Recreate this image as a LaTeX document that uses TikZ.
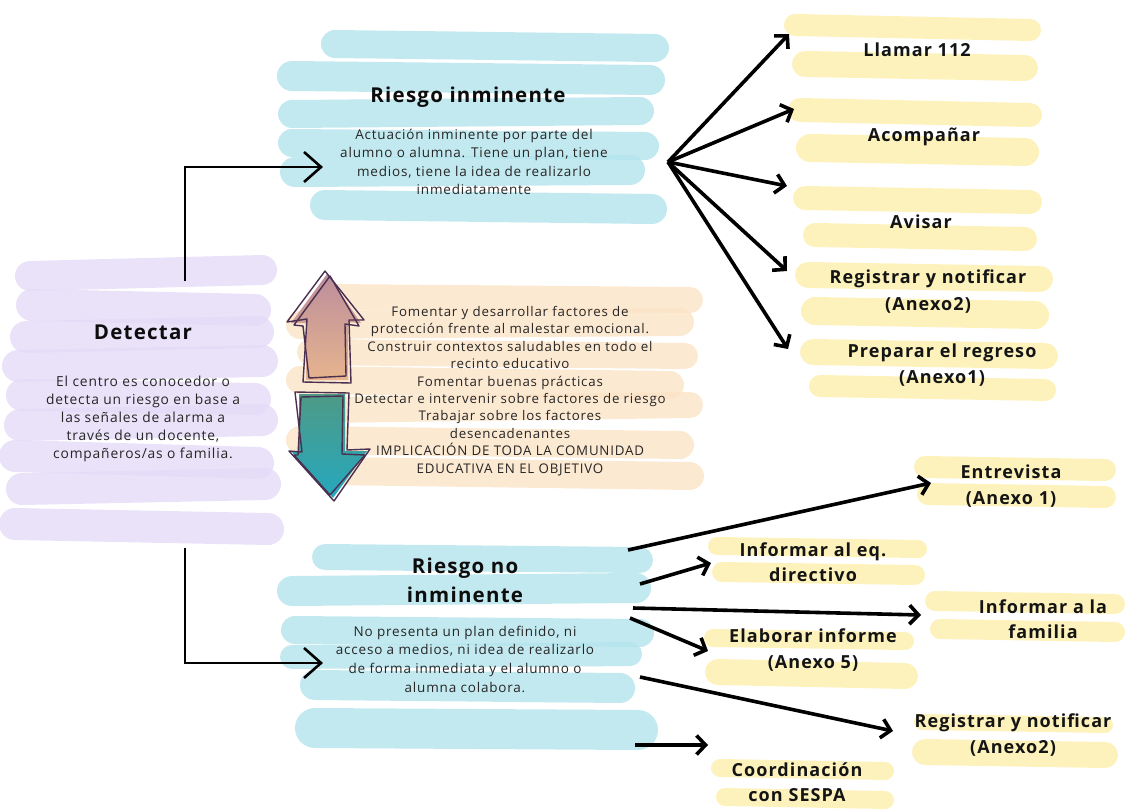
\documentclass[tikz,border=0pt]{standalone}
\usepackage{fontspec}
\setmainfont{Open Sans}[LetterSpace=6]
\usetikzlibrary{arrows.meta}
\definecolor{purp}{HTML}{E4DBF7}
\definecolor{cyanb}{HTML}{B4E4EC}
\definecolor{orng}{HTML}{FBE3C6}
\definecolor{yell}{HTML}{FCEFAB}
\definecolor{txt}{HTML}{262626}
\definecolor{outl}{HTML}{4A2F50}
\definecolor{mauve}{HTML}{BC8E9C}
\definecolor{peach}{HTML}{E7B48E}
\definecolor{tealg}{HTML}{4E9A86}
\definecolor{tealb}{HTML}{25A8BE}
\newcommand\brushline[6]{\draw[#1, line width=#6pt, line cap=round, opacity=0.8] (#2,#3) -- (#4,#5);}
\tikzset{
  ttl/.style={font=\bfseries\fontsize{20.5}{29}\selectfont, text=black!95, align=center},
  bodytxt/.style={font=\fontsize{13.5}{18.3}\selectfont, text=txt, align=center},
  midtxt/.style={font=\fontsize{13.3}{17.4}\selectfont, text=txt, align=center},
  lab/.style={font=\bfseries\fontsize{18}{25.5}\selectfont, text=black!92, align=center},
  fan/.style={-{Straight Barb[length=9pt,width=19pt]}, line width=3.6pt, black},
  elbow/.style={-{Straight Barb[length=17pt,width=30pt]}, line width=2.6pt, black},
  sketch/.style={draw=outl, line width=1.4pt, line join=round}
}
\begin{document}
\begin{tikzpicture}[x=1pt,y=-1pt]
\useasboundingbox (0,0) rectangle (1141,809);
% ---------- purple brush (Detectar)
\brushline{purp}{30}{276}{262}{270}{30}
\brushline{purp}{32}{305}{255}{310}{32}
\brushline{purp}{26}{337}{258}{332}{32}
\brushline{purp}{18}{366}{262}{361}{32}
\brushline{purp}{22}{395}{255}{399}{32}
\brushline{purp}{20}{425}{262}{420}{32}
\brushline{purp}{15}{456}{258}{463}{32}
\brushline{purp}{22}{489}{265}{484}{32}
\brushline{purp}{15}{524}{268}{529}{32}
% ---------- blue top
\brushline{cyanb}{335}{44}{655}{48}{28}
\brushline{cyanb}{292}{76}{650}{80}{30}
\brushline{cyanb}{292}{114}{640}{111}{28}
\brushline{cyanb}{292}{143}{645}{146}{28}
\brushline{cyanb}{295}{172}{630}{170}{30}
\brushline{cyanb}{325}{205}{652}{209}{30}
% ---------- orange middle
\brushline{orng}{330}{297}{690}{300}{26}
\brushline{orng}{300}{325}{680}{322}{28}
\brushline{orng}{310}{352}{685}{356}{26}
\brushline{orng}{300}{380}{670}{385}{28}
\brushline{orng}{320}{410}{690}{405}{26}
\brushline{orng}{300}{440}{680}{445}{28}
\brushline{orng}{330}{471}{690}{476}{28}
% ---------- blue bottom
\brushline{cyanb}{325}{557}{640}{560}{26}
\brushline{cyanb}{292}{591}{636}{588}{30}
\brushline{cyanb}{295}{630}{640}{633}{28}
\brushline{cyanb}{292}{657}{630}{654}{24}
\brushline{cyanb}{315}{685}{620}{688}{30}
\brushline{cyanb}{315}{728}{638}{730}{40}
% ---------- yellow (top right)
\brushline{yell}{795}{25}{1030}{30}{22}
\brushline{yell}{805}{64}{1025}{68}{26}
\brushline{yell}{800}{110}{1030}{115}{24}
\brushline{yell}{810}{148}{1025}{152}{28}
\brushline{yell}{805}{198}{1030}{202}{24}
\brushline{yell}{815}{235}{1025}{239}{24}
\brushline{yell}{808}{275}{1040}{279}{26}
\brushline{yell}{815}{311}{1035}{315}{28}
\brushline{yell}{813}{352}{1045}{356}{26}
\brushline{yell}{820}{386}{1045}{390}{22}
% ---------- yellow (bottom right)
\brushline{yell}{925}{467}{1105}{470}{22}
\brushline{yell}{928}{494}{1105}{497}{22}
\brushline{yell}{717}{546}{918}{549}{18}
\brushline{yell}{722}{572}{915}{575}{20}
\brushline{yell}{935}{601}{1115}{604}{20}
\brushline{yell}{940}{629}{1115}{632}{20}
\brushline{yell}{713}{638}{905}{641}{18}
\brushline{yell}{718}{672}{905}{676}{26}
\brushline{yell}{922}{722}{1105}{725}{16}
\brushline{yell}{925}{752}{1105}{755}{26}
\brushline{yell}{720}{768}{885}{771}{18}
\brushline{yell}{725}{797}{885}{800}{18}
% ---------- double arrow (middle)
\shade[top color=mauve, bottom color=peach]
  (327,274) -- (361,323) -- (348,322) -- (348,380) -- (306,380) -- (306,323) -- (291,323) -- cycle;
\shade[top color=tealg, bottom color=tealb]
  (299,394) -- (345,394) -- (345,451) -- (367,451) -- (333,498) -- (291,451) -- (299,451) -- cycle;
\draw[sketch] (325,271) -- (364,320) -- (349,320) -- (351,383) -- (303,382) -- (307,319) -- (287,322) -- cycle;
\draw[sketch] (330,276) -- (359,326) -- (345,324) -- (346,376) -- (309,378) -- (303,326) -- (294,325) -- cycle;
\draw[sketch] (295,392) -- (349,393) -- (347,450) -- (370,449) -- (334,501) -- (289,451) -- (302,452) -- cycle;
\draw[sketch] (301,397) -- (343,396) -- (342,454) -- (365,455) -- (330,495) -- (294,455) -- (298,455) -- cycle;
% ---------- nodes
\node[ttl] (det) at (143,332) {Detectar};
\node[bodytxt, font=\fontsize{13.8}{17.8}\selectfont] (detb) at (143,419) {El centro es conocedor o\\detecta un riesgo en base a\\las señales de alarma a\\través de un docente,\\compañeros/as o familia.};
\node[ttl] (ri) at (468,97) {Riesgo inminente};
\node[bodytxt] (rib) at (474,162) {Actuación inminente por parte del\\alumno o alumna. Tiene un plan, tiene\\medios, tiene la idea de realizarlo\\inmediatamente};
\node[midtxt] (mid) at (510,391) {Fomentar y desarrollar factores de\\protección frente al malestar emocional.\\Construir contextos saludables en todo el\\recinto educativo\\Fomentar buenas prácticas\\Detectar e intervenir sobre factores de riesgo\\Trabajar sobre los factores\\desencadenantes\\IMPLICACIÓN DE TODA LA COMUNIDAD\\EDUCATIVA EN EL OBJETIVO};
\node[ttl] (rn) at (465,580) {Riesgo no\\inminente};
\node[bodytxt, font=\fontsize{13.5}{18.7}\selectfont] (rnb) at (465,659) {No presenta un plan definido, ni\\acceso a medios, ni idea de realizarlo\\de forma inmediata y el alumno o\\alumna colabora.};
% right labels (top)
\node[lab] (l1) at (917,50) {Llamar 112};
\node[lab] (l2) at (924,137) {Acompañar};
\node[lab] (l3) at (921,222) {Avisar};
\node[lab, font=\bfseries\fontsize{18}{27}\selectfont] (l4) at (928,292) {Registrar y notificar\\(Anexo2)};
\node[lab] (l5) at (942,365) {Preparar el regreso\\(Anexo1)};
% right labels (bottom)
\node[lab] (b1) at (1011,486) {Entrevista\\(Anexo 1)};
\node[lab] (b2) at (813,562) {Informar al eq.\\directivo};
\node[lab] (b3) at (1043,619) {Informar a la\\familia};
\node[lab] (b4) at (813,650) {Elaborar informe\\(Anexo 5)};
\node[lab] (b5) at (1013,735) {Registrar y notificar\\(Anexo2)};
\node[lab] (b6) at (797,782) {Coordinación\\con SESPA};
% ---------- coordinates for connectors
\coordinate (detTop) at (185,281);
\coordinate (detBot) at (185,548);
\coordinate (riIn) at (323,167);
\coordinate (rnIn) at (323,663);
\coordinate (fanO) at (668,162);
\coordinate (t1) at (789,34);
\coordinate (t2) at (794,109);
\coordinate (t3) at (787,186);
\coordinate (t4) at (787,271);
\coordinate (t5) at (788,349);
\coordinate (s1) at (628,550);
\coordinate (e1) at (931,483);
\coordinate (s2) at (640,584);
\coordinate (e2) at (711,563);
\coordinate (s3) at (633,608);
\coordinate (e3) at (921,615);
\coordinate (s4) at (630,618);
\coordinate (e4) at (708,651);
\coordinate (s5) at (640,677);
\coordinate (e5) at (893,731);
\coordinate (s6) at (635,745);
\coordinate (e6) at (708,745);
% ---------- connectors
\draw[elbow] (detTop) |- (riIn);
\draw[elbow] (detBot) |- (rnIn);
\foreach \t in {t1,t2,t3,t4,t5} \draw[fan] (fanO) -- (\t);
\draw[fan] (s1) -- (e1);
\draw[fan] (s2) -- (e2);
\draw[fan] (s3) -- (e3);
\draw[fan] (s4) -- (e4);
\draw[fan] (s5) -- (e5);
\draw[fan] (s6) -- (e6);
\end{tikzpicture}
\end{document}
